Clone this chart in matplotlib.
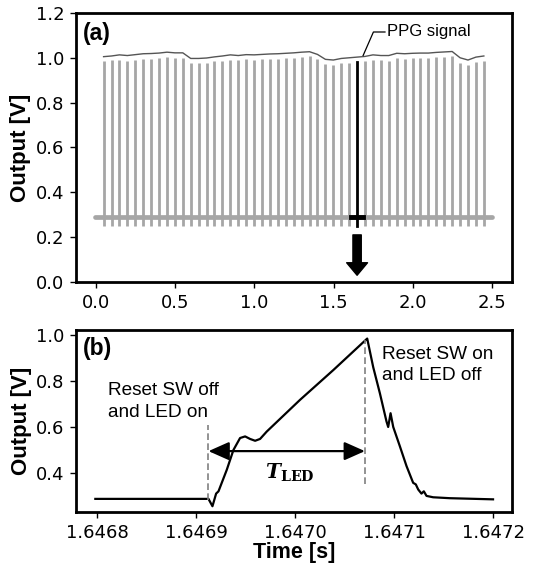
import numpy as np
import matplotlib
matplotlib.use('Agg')
import matplotlib.pyplot as plt

plt.rcParams['font.family'] = ['DejaVu Sans']
plt.rcParams['mathtext.fontset'] = 'dejavuserif'

# (a) PPG train: spike times [s], spike tops [V], envelope [V]
spike_t = [0.048, 0.098, 0.148, 0.198, 0.248, 0.298, 0.348, 0.398, 0.448, 0.498,
           0.548, 0.598, 0.648, 0.698, 0.748, 0.798, 0.848, 0.898, 0.948, 0.998,
           1.048, 1.098, 1.148, 1.198, 1.248, 1.298, 1.348, 1.398, 1.448, 1.498,
           1.548, 1.598, 1.648, 1.698, 1.748, 1.798, 1.848, 1.898, 1.948, 1.998,
           2.048, 2.098, 2.148, 2.198, 2.248, 2.298, 2.348, 2.398, 2.448]
spike_top = [0.985, 0.988, 0.990, 0.985, 0.992, 0.996, 0.995, 1.000, 1.002, 0.998,
             1.000, 0.976, 0.976, 0.978, 0.984, 0.986, 0.992, 0.988, 0.993, 0.990,
             0.994, 0.995, 0.996, 0.998, 1.000, 1.002, 1.006, 0.993, 0.972, 0.968,
             0.975, 0.978, 0.980, 0.985, 0.992, 0.988, 0.987, 0.998, 0.995, 0.998,
             1.000, 0.999, 1.003, 1.004, 1.007, 0.978, 0.968, 0.982, 0.986]
envelope = [1.005, 1.008, 1.013, 1.010, 1.014, 1.018, 1.019, 1.021, 1.025, 1.022,
            1.022, 0.997, 0.997, 0.999, 1.004, 1.008, 1.013, 1.010, 1.014, 1.013,
            1.015, 1.017, 1.018, 1.020, 1.022, 1.025, 1.027, 1.015, 0.993, 0.990,
            0.997, 1.000, 1.003, 1.006, 1.013, 1.010, 1.010, 1.020, 1.018, 1.020,
            1.021, 1.021, 1.024, 1.026, 1.028, 1.000, 0.990, 1.003, 1.008]
spike_bottom = 0.25
baseline = 0.29
zoom_idx = 32

# (b) single pulse
pulse_t = [1.6467983, 1.6469126, 1.6469166, 1.6469203, 1.6469227, 1.6469311,
           1.6469378, 1.6469445, 1.6469496, 1.6469546, 1.6469597, 1.6469647,
           1.6469714, 1.6470050, 1.6470387, 1.6470729, 1.6470790, 1.6470857,
           1.6470924, 1.6470941, 1.6470965, 1.6470992, 1.6471059, 1.6471126,
           1.6471193, 1.6471220, 1.6471244, 1.6471277, 1.6471301, 1.6471328,
           1.6471395, 1.6471563, 1.6472000]
pulse_v = [0.287, 0.287, 0.255, 0.310, 0.320, 0.414,
           0.500, 0.552, 0.559, 0.548, 0.540, 0.548,
           0.580, 0.718, 0.848, 0.985, 0.860, 0.747,
           0.624, 0.600, 0.660, 0.600, 0.516, 0.430,
           0.357, 0.350, 0.328, 0.310, 0.320, 0.300,
           0.294, 0.290, 0.285]
t_on = 1.6469126
t_off = 1.6470706

fig = plt.figure(figsize=(5.43, 5.70), dpi=100)
ax1 = fig.add_axes([0.140, 0.5053, 0.803, 0.472])
ax2 = fig.add_axes([0.140, 0.1018, 0.803, 0.319])

gray = '#a6a6a6'
for i, (t, top) in enumerate(zip(spike_t, spike_top)):
    if i == zoom_idx:
        continue
    ax1.plot([t, t], [spike_bottom, top], color=gray, lw=2.0, solid_capstyle='butt')
ax1.plot([-0.005, 2.5], [baseline, baseline], color=gray, lw=3.4, solid_capstyle='round')
ax1.plot(spike_t, envelope, color='#555555', lw=1.0)
t0 = spike_t[zoom_idx]
ax1.plot([t0, t0], [spike_bottom, spike_top[zoom_idx]], color='black', lw=2.0)
ax1.plot([t0 - 0.04, t0 + 0.04], [baseline, baseline], color='black', lw=3.5)
ax1.annotate('', xy=(t0, 0.03), xytext=(t0, 0.21),
             arrowprops=dict(arrowstyle='simple,head_width=1.5,head_length=0.9,tail_width=0.6',
                             color='black', shrinkA=0, shrinkB=0))
ax1.plot([1.686, 1.751, 1.824], [1.01, 1.115, 1.115], color='black', lw=0.9)
ax1.text(1.835, 1.115, 'PPG signal', fontsize=12, family='Liberation Sans', va='center')
ax1.text(0.016, 0.967, '(a)', transform=ax1.transAxes, fontsize=16.5, fontweight='bold',
         family='Liberation Sans', va='top')

ax1.set_xlim(-0.126, 2.626)
ax1.set_ylim(0, 1.2)
ax1.set_xticks([0.0, 0.5, 1.0, 1.5, 2.0, 2.5])
ax1.set_xticklabels(['0.0', '0.5', '1.0', '1.5', '2.0', '2.5'])
ax1.set_yticks([0.0, 0.2, 0.4, 0.6, 0.8, 1.0, 1.2])
ax1.set_yticklabels(['0.0', '0.2', '0.4', '0.6', '0.8', '1.0', '1.2'])
ax1.set_ylabel('Output [V]', fontsize=16, fontweight='bold', family='Liberation Sans', labelpad=3)

ax2.plot(pulse_t, pulse_v, color='black', lw=1.6)
ax2.plot([t_on, t_on], [0.28, 0.61], color='gray', lw=1.2, ls=(0, (4, 2)))
ax2.plot([t_off, t_off], [0.35, 0.98], color='gray', lw=1.2, ls=(0, (4, 2)))
ax2.annotate('', xy=(t_on, 0.495), xytext=(t_off, 0.495),
             arrowprops=dict(arrowstyle='<|-|>,head_length=0.9,head_width=0.4',
                             mutation_scale=14, color='black', lw=1.6,
                             shrinkA=0, shrinkB=0))
ax2.text(1.646995, 0.40, r'$\boldsymbol{T}_{\mathbf{LED}}$', fontsize=14.5,
         ha='center', va='center')
ax2.text(1.646811, 0.795, 'Reset SW off\nand LED on', fontsize=13.7,
         family='Liberation Sans', va='top', linespacing=1.35)
ax2.text(1.6470874, 0.953, 'Reset SW on\nand LED off', fontsize=13.7,
         family='Liberation Sans', va='top', linespacing=1.35)
ax2.text(0.016, 0.96, '(b)', transform=ax2.transAxes, fontsize=16.5, fontweight='bold',
         family='Liberation Sans', va='top')

ax2.set_xlim(1.6467788, 1.6472192)
ax2.set_ylim(0.230, 1.0217)
ax2.set_xticks([1.6468, 1.6469, 1.6470, 1.6471, 1.6472])
ax2.set_xticklabels(['1.6468', '1.6469', '1.6470', '1.6471', '1.6472'])
ax2.set_yticks([0.4, 0.6, 0.8, 1.0])
ax2.set_yticklabels(['0.4', '0.6', '0.8', '1.0'])
ax2.set_ylabel('Output [V]', fontsize=16, fontweight='bold', family='Liberation Sans', labelpad=3)
ax2.set_xlabel('Time [s]', fontsize=15.5, fontweight='bold', family='Liberation Sans', labelpad=0)

for ax in (ax1, ax2):
    for s in ax.spines.values():
        s.set_linewidth(2.0)
    ax.tick_params(labelsize=13, length=4, width=1, pad=4.5)

fig.savefig('out.png', dpi=100)
